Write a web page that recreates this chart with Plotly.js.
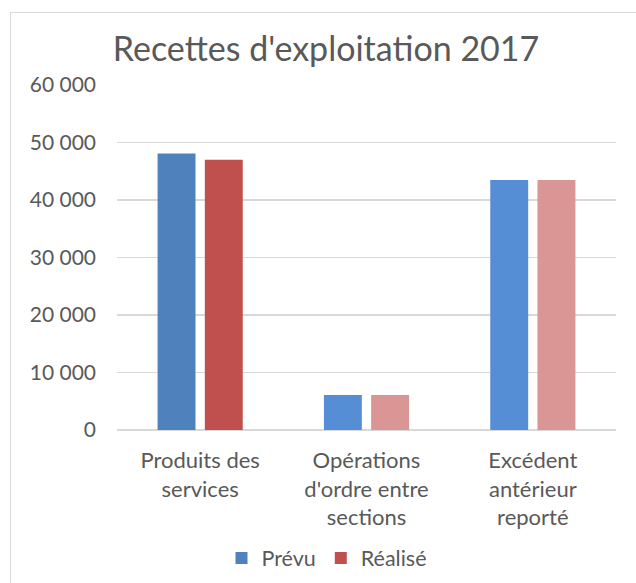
<!DOCTYPE html>
<html>
<head>
<meta charset="utf-8">
<script src="https://cdn.plot.ly/plotly-3.0.1.min.js"></script>
<style>
  html, body { margin: 0; padding: 0; background: #ffffff; overflow: hidden; }
  #frame { position: absolute; left: 10px; top: 12px; width: 700px; height: 700px;
           border: 1.5px solid #d9d9d9; box-sizing: border-box; }
  #chart { position: absolute; left: 0; top: 0; width: 636px; height: 583px; }
</style>
</head>
<body>
<div id="frame"></div>
<div id="chart"></div>
<script>
const categories = ["Produits des<br>services", "Opérations<br>d'ordre entre<br>sections", "Excédent<br>antérieur<br>reporté"];
const seriesNames = ["Prévu", "Réalisé"];
const prevu = [48100, 6100, 43500];
const realise = [47000, 6100, 43500];
const prevuColors = ["#4F81BD", "#558ED5", "#558ED5"];
const realiseColors = ["#C0504D", "#D99694", "#D99694"];
const yTickVals = [0, 10000, 20000, 30000, 40000, 50000, 60000];

const textColor = "#595959";
const fontFamily = "Lato, 'Open Sans', sans-serif";

const traces = [
  { type: "bar", name: seriesNames[0], x: categories, y: prevu,
    marker: { color: prevuColors }, width: 0.228, offset: -0.256 },
  { type: "bar", name: seriesNames[1], x: categories, y: realise,
    marker: { color: realiseColors }, width: 0.228, offset: 0.028 }
];

const layout = {
  width: 636, height: 583,
  margin: { l: 117, r: 20, t: 85, b: 153, pad: 0 },
  paper_bgcolor: "rgba(0,0,0,0)",
  plot_bgcolor: "rgba(0,0,0,0)",
  separators: ", ",
  font: { family: fontFamily, color: textColor, size: 22 },
  title: {
    text: "Recettes d'exploitation 2017",
    font: { family: fontFamily, size: 34, color: textColor },
    x: 326 / 636, xref: "container", xanchor: "center",
    y: 1 - 49 / 583, yref: "container", yanchor: "middle"
  },
  showlegend: true,
  legend: {
    orientation: "h", x: 327 / 636, xanchor: "center", xref: "container",
    y: 1 - 558 / 583, yanchor: "middle", yref: "container",
    font: { family: fontFamily, size: 21.5, color: textColor },
    bgcolor: "rgba(0,0,0,0)"
  },
  xaxis: {
    type: "category",
    tickfont: { family: fontFamily, size: 22, color: textColor },
    showline: false, showgrid: false, zeroline: false,
    ticks: "", ticklabelstandoff: 15, fixedrange: true
  },
  yaxis: {
    range: [0, 60000],
    tickvals: yTickVals,
    tickformat: ",d",
    tickfont: { family: fontFamily, size: 21, color: textColor },
    showgrid: true, gridcolor: "#d9d9d9", gridwidth: 1.3,
    zeroline: true, zerolinecolor: "#d9d9d9", zerolinewidth: 2,
    showline: false, ticks: "", ticklabelstandoff: 20, fixedrange: true
  },
  hovermode: false
};

Plotly.newPlot("chart", traces, layout, { displayModeBar: false, staticPlot: true });
</script>
</body>
</html>
